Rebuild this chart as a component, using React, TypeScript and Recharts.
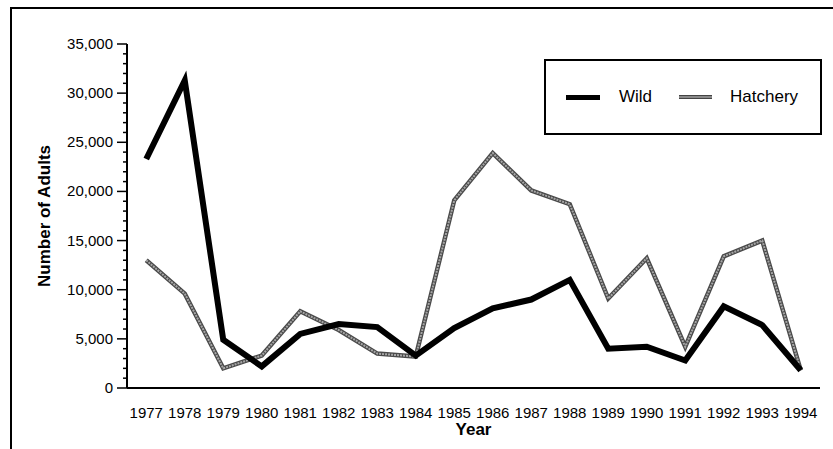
import { LineChart, Line, XAxis, YAxis } from "recharts";

// Adult returns by year
const years = [
  1977, 1978, 1979, 1980, 1981, 1982, 1983, 1984, 1985, 1986, 1987, 1988,
  1989, 1990, 1991, 1992, 1993, 1994,
];
const wild = [
  23300, 31300, 4900, 2200, 5500, 6500, 6200, 3300, 6100, 8100, 9000, 11000,
  4000, 4200, 2800, 8300, 6400, 1800,
];
const hatchery = [
  13000, 9600, 2000, 3300, 7800, 5900, 3500, 3200, 19100, 23900, 20100, 18700,
  9100, 13200, 4200, 13400, 15000, 1800,
];
const majorTicks = [0, 5000, 10000, 15000, 20000, 25000, 30000, 35000];

const data = years.map((year, i) => ({
  year,
  wild: wild[i],
  hatchery: hatchery[i],
}));

// tick marks sit on the category boundaries, labels in the middle
const bandEdges = [...years.map((y) => y - 0.5), years[years.length - 1] + 0.5];
const minorTicks = Array.from({ length: 36 }, (_, i) => i * 1000);

const FONT = '"Liberation Sans", Arial, Helvetica, sans-serif';

const YTick = ({ x, y, payload }: any) => {
  const major = majorTicks.includes(payload.value);
  return (
    <g>
      <line
        x1={x}
        x2={x - (major ? 10 : 4)}
        y1={y}
        y2={y}
        stroke="#000"
        strokeWidth={1.5}
      />
      {major && (
        <text
          x={x - 14}
          y={y}
          dy={5}
          textAnchor="end"
          fontSize={15}
          fontFamily={FONT}
          fill="#000"
        >
          {payload.value.toLocaleString("en-US")}
        </text>
      )}
    </g>
  );
};

const LegendBox = () => (
  <div
    style={{
      position: "absolute",
      left: 544,
      top: 59,
      boxSizing: "border-box",
      width: 278,
      height: 76,
      border: "2px solid #000",
      display: "flex",
      alignItems: "center",
      fontFamily: FONT,
      fontSize: 17,
      color: "#000",
      background: "#fff",
    }}
  >
    <span
      style={{ display: "inline-block", width: 34, height: 5, background: "#000", marginLeft: 20 }}
    />
    <span style={{ marginLeft: 19 }}>Wild</span>
    <span
      style={{
        display: "inline-block",
        width: 33,
        height: 4,
        background: "#8a8a8a",
        borderTop: "1px solid #444",
        borderBottom: "1px solid #444",
        boxSizing: "border-box",
        marginLeft: 27,
      }}
    />
    <span style={{ marginLeft: 18 }}>Hatchery</span>
  </div>
);

export default function App() {
  return (
    <div style={{ position: "absolute", left: 0, top: 0, width: 833, height: 449, background: "#fff" }}>
      <div
        style={{
          position: "absolute",
          left: 10,
          top: 7,
          width: 823,
          height: 442,
          borderTop: "2px solid #000",
          borderLeft: "2px solid #000",
          boxSizing: "border-box",
        }}
      />
      <LineChart
        width={833}
        height={449}
        data={data}
        margin={{ top: 44, right: 13, left: 0, bottom: 0 }}
        style={{ fontFamily: FONT }}
      >
        <XAxis
          xAxisId="edges"
          type="number"
          dataKey="year"
          domain={[bandEdges[0], bandEdges[bandEdges.length - 1]]}
          ticks={bandEdges}
          interval={0}
          tick={false}
          tickSize={8}
          height={8}
          axisLine={{ stroke: "#000", strokeWidth: 2 }}
          tickLine={{ stroke: "#000", strokeWidth: 1.5 }}
        />
        <XAxis
          xAxisId="labels"
          type="number"
          dataKey="year"
          domain={[bandEdges[0], bandEdges[bandEdges.length - 1]]}
          ticks={years}
          interval={0}
          axisLine={false}
          tickLine={false}
          tickSize={0}
          tickMargin={11}
          height={53}
          tick={{ fontSize: 15, fill: "#000", fontFamily: FONT }}
          label={{
            value: "Year",
            position: "insideBottom",
            offset: 14,
            fontSize: 17,
            fontWeight: "bold",
            fill: "#000",
            fontFamily: FONT,
          }}
        />
        <YAxis
          domain={[0, 35000]}
          ticks={minorTicks}
          interval={0}
          width={127}
          tickLine={false}
          tickSize={0}
          tickMargin={0}
          tick={<YTick />}
          axisLine={{ stroke: "#000", strokeWidth: 2 }}
          label={{
            value: "Number of Adults",
            angle: -90,
            position: "center",
            dx: -20,
            fontSize: 17,
            fontWeight: "bold",
            fill: "#000",
            fontFamily: FONT,
          }}
        />
        <Line
          xAxisId="edges"
          dataKey="hatchery"
          stroke="#4a4a4a"
          strokeWidth={4.5}
          strokeLinejoin="miter"
          dot={false}
          isAnimationActive={false}
        />
        <Line
          xAxisId="edges"
          dataKey="hatchery"
          stroke="#a6a6a6"
          strokeWidth={2}
          strokeDasharray="2 1"
          strokeLinejoin="miter"
          dot={false}
          isAnimationActive={false}
        />
        <Line
          xAxisId="edges"
          dataKey="wild"
          stroke="#000"
          strokeWidth={6}
          strokeLinejoin="miter"
          dot={false}
          isAnimationActive={false}
        />
      </LineChart>
      <LegendBox />
    </div>
  );
}
